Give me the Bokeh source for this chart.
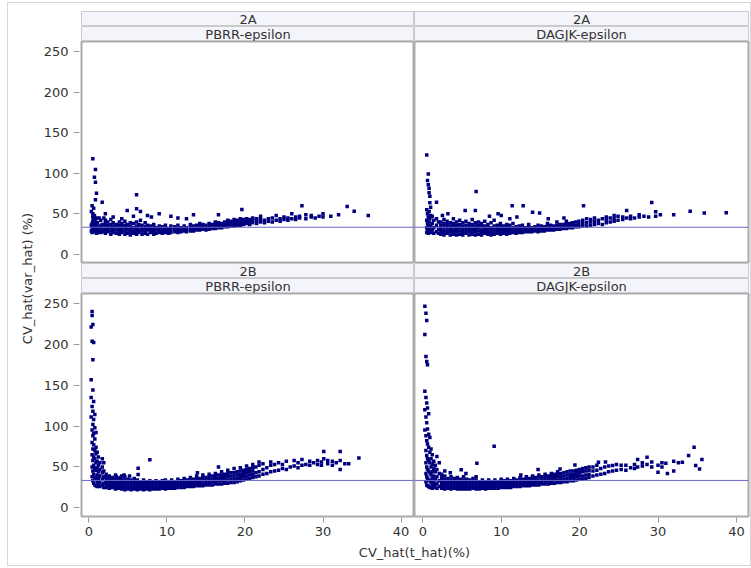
from bokeh.plotting import figure
from bokeh.layouts import row, column
from bokeh.models import Range1d, Span, FixedTicker
from bokeh.core.properties import value
from bokeh.embed import file_html
from bokeh.resources import INLINE
from math import pi

# ---------------- data ----------------
ROW_LABELS = ["2A", "2B"]
COL_LABELS = ["PBRR-epsilon", "DAGJK-epsilon"]
X_TICKS = [0, 10, 20, 30, 40]
Y_TICKS = [0, 50, 100, 150, 200, 250]
REF_LEVEL = 33.5
X_LABEL = "CV_hat(t_hat)(%)"
Y_LABEL = "CV_hat(var_hat) (%)"

# 2A / PBRR-epsilon : x value of each column of points, and the y values in it
TL_COL_X = [0.3, 0.4, 0.49, 0.6, 0.7, 0.83, 0.96, 1.1, 1.3, 1.5, 1.69, 1.9,
            2.1, 2.4, 2.8, 3.1, 3.5, 3.9, 4.2, 4.6, 4.9, 5.3, 5.7, 6.1, 6.4, 6.6, 6.8,
            7.2, 7.5, 7.9, 8.0, 8.3, 8.6, 9.0, 9.4, 9.8, 10.2, 10.5, 11.0, 11.4, 11.8,
            12.2, 12.5, 13.0, 13.4, 13.8, 14.2, 14.6, 15.0, 15.4, 15.8, 16.2, 16.6,
            17.0, 17.4, 17.8, 18.2, 18.6, 19.0, 19.4, 19.6, 19.8,
            20.2, 20.6, 21.0, 21.5, 22.0, 22.5, 23.0, 23.5, 24.0, 24.5, 25.0, 25.5,
            26.0, 26.5, 27.0, 27.3, 27.8, 28.5, 29.0, 29.5, 30.0, 31.0, 32.0, 33.1,
            34.0, 35.8]
TL_COL_Y = [[53, 36, 29], [60, 38, 31, 27], [117.8, 50, 46, 41, 34], [57, 44, 37, 30],
            [95, 48, 40, 32, 28], [104.7, 89, 67.3, 42, 35], [75.5, 45, 38, 33, 26],
            [39, 31, 27], [45, 35, 29], [42, 33, 27], [64.4, 37, 30], [45, 34, 28],
            [26, 30, 34, 38, 42, 50], [28, 32, 36, 40], [25, 29, 33, 37, 43],
            [27, 31, 35, 39, 46], [26, 30, 34, 37], [25, 28, 32, 36, 40],
            [27, 31, 34, 38, 44], [25, 29, 33, 36, 41], [26, 30, 33, 37, 54],
            [24, 28, 32, 35, 39], [26, 29, 33, 38, 47], [25, 28, 31, 35, 40, 56.2, 73.5],
            [27, 30, 34, 37], [53, 42], [25, 29, 32, 36], [26, 28, 31, 34, 39],
            [25, 30, 33, 36, 48], [27, 29, 32, 35], [46], [25, 28, 31, 34, 37],
            [26, 30, 33], [27, 29, 32, 35, 50], [26, 28, 31, 34], [27, 30, 33, 36],
            [26, 29, 32], [27, 30, 33, 35, 47], [28, 31, 34], [27, 29, 32, 36, 45],
            [28, 31, 33], [29, 32, 35], [28, 30, 33, 44], [29, 31, 34, 37],
            [29, 32, 35, 49], [30, 33, 36], [30, 32, 35, 38], [31, 34, 37], [30, 33, 36],
            [31, 34, 38], [32, 35, 37], [32, 34, 38, 40], [33, 36, 39, 49], [33, 35, 38],
            [34, 37, 40], [34, 36, 39, 42], [35, 38, 41], [35, 37, 40, 43], [36, 39, 42],
            [36, 38, 41, 44], [55.4], [37, 40, 43],
            [38, 41, 44], [37, 40, 43], [39, 42, 45], [38, 41, 44], [40, 43, 47], [39, 42],
            [41, 44], [40, 45], [42, 48], [41, 44], [43, 46], [42, 45], [44, 50], [43, 46],
            [45, 47], [60], [44, 49], [46, 48], [45], [47], [50, 46], [47], [49], [59],
            [53.3], [48]]

# 2A / DAGJK-epsilon
TR_COL_X = [0.5, 0.6, 0.7, 0.8, 0.9, 1.0, 1.2, 1.4, 1.75, 2.0,
            2.3, 2.5, 2.7, 3.1, 3.2, 3.5, 3.9, 4.3, 4.7, 5.1, 5.4, 5.5, 5.9, 6.3, 6.7,
            6.8, 7.1, 7.5, 7.9, 8.3, 8.5, 8.7, 9.1, 9.5, 9.6, 9.9, 10.0, 10.3, 10.7,
            11.1, 11.4, 11.5, 11.9, 12.0, 12.3, 12.7, 12.8, 13.1, 13.5, 13.9, 14.0,
            14.3, 14.7, 14.9, 15.1, 15.5, 15.9, 16.0, 16.3, 16.7, 17.1, 17.5, 17.9,
            18.0, 18.3, 18.7, 19.1, 19.5, 19.9,
            20.4, 20.5, 20.9, 21.4, 21.9, 22.4, 22.9, 23.4, 23.9, 24.4, 24.9, 25.5,
            26.0, 26.5, 27.0, 27.6, 28.2, 28.8, 29.2, 29.7, 30.3, 32.0, 34.1, 35.9,
            38.7]
TR_COL_Y = [[122.5, 55, 42, 33, 27], [91, 50, 38, 30], [99, 86, 46, 35, 26],
            [81.6, 76, 53, 40, 31, 28], [71.7, 63.6, 44, 36, 29], [58, 48, 34, 27],
            [47, 38, 30], [42, 33, 26], [64.4, 44, 36, 28], [40, 31, 26],
            [25, 28, 32, 36, 40], [48], [24, 27, 30, 34, 38, 43], [26, 29, 33, 37, 41],
            [50], [24, 28, 31, 35, 39], [25, 27, 30, 34, 38, 44], [24, 28, 32, 36, 40],
            [25, 29, 33, 37, 42], [24, 27, 31, 35, 39], [54], [26, 29, 32, 36, 41],
            [24, 28, 31, 34, 38], [25, 27, 30, 33, 37, 43], [24, 28, 32, 35, 39, 54],
            [77.6], [25, 29, 33, 36, 40], [24, 27, 30, 34, 38], [26, 29, 32, 35, 41],
            [25, 28, 31, 34, 37], [47], [24, 27, 30, 33, 39], [25, 28, 31, 35, 42],
            [26, 29, 32, 36], [50], [25, 28, 31, 34, 38], [48], [26, 29, 32, 35],
            [25, 28, 30, 33, 37], [26, 29, 32, 36, 44], [60], [27, 30, 33, 38],
            [26, 28, 31, 34], [46], [27, 29, 32, 35], [27, 30, 33, 36], [60], [28, 30, 33],
            [28, 31, 34, 37], [28, 30, 33], [52], [29, 31, 34], [28, 30, 33, 36], [51],
            [29, 32, 35], [29, 31, 34], [30, 32, 35, 38], [44], [30, 33, 36], [30, 32, 35],
            [31, 33, 36, 40], [31, 34, 37], [32, 34, 37], [45], [32, 35, 38, 41],
            [33, 35, 38], [33, 36, 39], [34, 36, 40], [34, 37, 41],
            [35, 38, 42], [60], [35, 39, 44], [36, 40, 43], [37, 41, 45], [38, 42],
            [37, 44], [39, 43, 46], [40, 45], [41, 44, 48], [42, 47], [43, 46], [54, 45],
            [44, 47], [45], [49, 46], [47], [46], [64], [52.7, 47], [49], [49], [53.3],
            [51], [51.5]]

# 2B / PBRR-epsilon
BL_COL_X = [0.28, 0.4, 0.5, 0.6, 0.75, 0.9, 1.05, 1.2, 1.4, 1.7, 1.9,
            2.2, 2.6, 3.0, 3.4, 3.5, 3.8, 4.0, 4.2, 4.5, 4.6, 5.0, 5.2, 5.4, 5.8, 6.2,
            6.3, 6.6, 7.0, 7.4, 7.8, 8.2, 8.6, 9.0, 9.4, 9.8, 10.2, 10.6, 11.0, 11.4,
            11.8, 12.2, 12.6, 13.0, 13.4, 13.8, 13.9, 14.2, 14.6, 15.0, 15.4, 15.8,
            16.2, 16.6, 17.0, 17.4, 17.8, 18.2, 18.6, 19.0, 19.4, 19.8,
            20.2, 20.6, 21.0, 21.4, 21.8, 22.3, 22.8, 23.3, 23.8, 24.3, 24.8, 25.3,
            25.8, 26.3, 26.8, 27.3, 27.8, 28.3, 28.8, 29.3, 29.8, 30.1, 30.6, 31.2,
            31.7, 32.2, 32.8, 33.3, 34.6]
BL_COL_Y = [[221, 156.5, 135, 111], [240, 235, 203.7, 124, 95, 80, 65, 50, 38],
            [224, 181, 144, 118, 102, 88, 72, 58, 45, 33],
            [202, 130, 108, 91, 77, 62, 52, 41, 30], [114, 98, 84, 70, 60, 48, 37, 28],
            [92, 74, 66, 55, 46, 36, 27], [68, 57, 49, 40, 32, 26], [62, 52, 44, 36, 29],
            [55, 47, 39, 31, 26], [60, 50, 43, 35, 28], [55, 45, 38, 30, 25],
            [25, 28, 31, 34, 37, 41], [24, 27, 30, 33, 36, 39], [25, 28, 31, 34, 37],
            [23, 26, 29, 32, 35, 40], [38], [24, 27, 30, 33, 36], [37],
            [23, 26, 29, 32, 35, 39], [40], [22, 25, 28, 31, 34, 38], [23, 26, 29, 32, 35],
            [39], [22, 25, 28, 31, 34], [23, 26, 29, 32, 36], [22, 25, 28, 31, 34],
            [48.4, 40.7], [23, 26, 29, 32], [22, 25, 28, 31, 34], [23, 26, 29, 32],
            [22, 25, 28, 31, 33, 58.7], [23, 26, 29, 32], [23, 25, 28, 31, 33],
            [23, 26, 29, 32], [24, 26, 29, 31, 33], [23, 26, 28, 31, 34], [24, 27, 29, 32],
            [24, 26, 29, 31, 34], [24, 27, 30, 32], [25, 27, 30, 33, 35], [25, 28, 30, 33],
            [25, 28, 31, 34, 36], [26, 28, 31, 34], [26, 29, 32, 35, 37], [26, 29, 32, 35],
            [27, 30, 33, 36, 39], [42.8], [27, 30, 33, 36], [27, 30, 34, 37, 40],
            [28, 31, 34, 37], [28, 31, 35, 38, 41], [28, 32, 35, 39],
            [29, 32, 36, 39, 42], [29, 33, 36, 40, 50], [29, 33, 37, 40, 44],
            [30, 33, 37, 41], [30, 34, 38, 42, 46], [31, 35, 39, 43],
            [31, 35, 39, 43, 48], [32, 36, 40, 44], [33, 37, 41, 45, 49], [34, 38, 42, 46],
            [35, 39, 43, 47, 51], [36, 40, 44, 48], [37, 41, 45, 49, 53], [38, 43, 50],
            [39, 44, 52, 56], [41, 47, 54], [42, 49], [44, 52, 56],
            [45, 53], [46, 55], [48, 53], [47, 57], [50],
            [51, 58], [49, 55], [52, 59], [53], [52, 57], [55], [53, 58],
            [56, 52], [68.8, 60], [54, 58], [52, 57], [55], [68.8, 47, 58], [54], [54],
            [61]]

# 2B / DAGJK-epsilon
BR_COL_X = [0.26, 0.4, 0.5, 0.6, 0.75, 0.9, 1.05, 1.2, 1.4, 1.6, 1.8, 2.1,
            2.4, 2.8, 3.2, 3.5, 3.6, 4.0, 4.4, 4.8, 4.9, 5.2, 5.5, 5.6, 6.0, 6.4, 6.8,
            6.9, 7.2, 7.6, 8.0, 8.4, 8.8, 9.1, 9.2, 9.6, 10.0, 10.4, 10.8, 11.2, 11.6,
            12.0, 12.4, 12.5, 12.8, 13.2, 13.6, 14.0, 14.4, 14.7, 14.8, 15.2, 15.6,
            16.0, 16.4, 16.8, 17.2, 17.5, 17.6, 18.0, 18.4, 18.8, 19.2, 19.4, 19.6,
            20.0, 20.4, 20.8, 21.2, 21.7, 22.2, 22.4, 22.7, 23.2, 23.3, 23.7, 24.2,
            24.7, 25.3, 25.9, 26.5, 27.0, 27.4, 28.0, 28.6, 29.2, 30.0, 30.5, 31.0,
            31.2, 32.0, 32.6, 33.1, 33.9, 34.6, 34.8, 35.3, 35.6]
BR_COL_Y = [[246.5, 212, 142.5, 120, 95], [238, 185, 135, 111, 88, 70, 55, 42, 32],
            [229, 179, 128, 104, 82, 64, 50, 38, 28], [175, 122, 96.5, 78, 60, 47, 36, 27],
            [115, 90, 74, 58, 45, 34, 26], [86, 68, 55, 43, 33, 25], [72, 60, 50, 40, 31],
            [65, 53, 44, 36, 28, 24], [57, 48, 39, 31, 25], [52, 44, 35, 28],
            [62.7, 47, 38, 30, 24], [55, 42, 33, 26],
            [24, 27, 30, 33, 37, 41], [23, 26, 29, 32, 35, 39, 45], [24, 27, 30, 33, 36],
            [43], [23, 25, 28, 31, 34, 38], [24, 27, 30, 33, 36], [23, 25, 28, 31, 34, 37],
            [23, 26, 29, 32, 35], [46.4], [23, 25, 28, 31, 34, 38], [42],
            [23, 26, 29, 32, 35], [23, 25, 28, 31, 34], [24, 26, 29, 32, 36],
            [23, 25, 28, 31, 34, 38], [54.5], [23, 26, 29, 32], [24, 26, 29, 31, 34],
            [23, 26, 28, 31], [24, 26, 29, 32, 34], [24, 27, 29, 32], [75.3],
            [24, 26, 29, 31, 34], [24, 27, 30, 32], [25, 27, 30, 33, 35], [25, 28, 30, 33],
            [25, 27, 30, 33, 35], [25, 28, 31, 33], [26, 28, 31, 34, 36], [26, 29, 31, 34],
            [26, 29, 32, 35, 37], [40], [27, 29, 32, 35], [27, 30, 33, 36, 38],
            [27, 30, 33, 36], [28, 31, 34, 37, 39], [28, 31, 34, 37], [46.8],
            [28, 31, 34, 38, 40], [29, 32, 35, 38], [29, 32, 36, 39, 41], [29, 33, 36, 39],
            [30, 33, 37, 40, 42], [30, 34, 37, 41], [31, 34, 38, 41, 44], [47.6],
            [31, 35, 38, 42], [32, 35, 39, 43], [32, 36, 40, 44], [33, 37, 41, 45],
            [33, 37, 41, 45], [52.5], [34, 38, 42, 46], [35, 39, 43, 47], [35, 39, 44, 48],
            [36, 40, 45, 49], [37, 41, 46, 50], [39, 45, 50], [40, 46, 52], [55.7],
            [41, 48], [42, 50], [56], [44, 51], [45, 51.7],
            [46, 53], [47, 52], [46, 52], [49], [48, 53], [59, 50], [51, 55],
            [61.9, 53], [50, 56], [43.5, 52], [55, 50], [54.5], [42], [45, 57], [55],
            [55.7], [64], [74], [51.7], [47.5], [59]]

PANEL_DATA = [[(TL_COL_X, TL_COL_Y), (TR_COL_X, TR_COL_Y)],
              [(BL_COL_X, BL_COL_Y), (BR_COL_X, BR_COL_Y)]]

# ---------------- style ----------------
FONT = "DejaVu Sans"
TXT = "#333333"
POINT = "#00007F"
REF = "#6767C9"
HDR_FILL = "#F3F5FA"
HDR_LINE = "#CACACA"
FRAME_LINE = "#ABABAB"
LEFT_BORDER = 41
FW = [333, 334]
X_RANGES = [(-0.96, 41.73), (-1.06, 41.54)]
Y_RANGES = [(-9.9, 262.3), (-10.6, 262.0)]
FH = [221, 223]


def flat(cx, cy):
    xs, ys = [], []
    for x, col in zip(cx, cy):
        for y in col:
            xs.append(x)
            ys.append(y)
    return xs, ys


def header(text, c, top=0):
    p = figure(frame_width=FW[c], frame_height=15,
               min_border_left=LEFT_BORDER if c == 0 else 0,
               min_border_right=0 if c == 0 else 2,
               min_border_top=top, min_border_bottom=0,
               x_range=Range1d(0, 1), y_range=Range1d(0, 1),
               x_axis_location=None, y_axis_location=None,
               toolbar_location=None, output_backend="svg",
               background_fill_color=HDR_FILL, outline_line_color=HDR_LINE,
               outline_line_width=1)
    p.grid.visible = False
    p.text(x=[0.5], y=[0.5], text=[text], text_align="center",
           text_baseline="middle", text_font=value(FONT),
           text_font_size=value("13px"), text_color=TXT)
    return p


def panel(r, c):
    cx, cy = PANEL_DATA[r][c]
    xs, ys = flat(cx, cy)
    p = figure(frame_width=FW[c], frame_height=FH[r],
               min_border_left=LEFT_BORDER if c == 0 else 0,
               min_border_right=0 if c == 0 else 2,
               min_border_top=0, min_border_bottom=1 if r == 0 else 28,
               x_range=Range1d(*X_RANGES[c]), y_range=Range1d(*Y_RANGES[r]),
               x_axis_location="below" if r == 1 else None,
               y_axis_location="left" if c == 0 else None,
               toolbar_location=None, output_backend="svg",
               outline_line_color=FRAME_LINE, outline_line_width=2)
    p.grid.visible = False
    for ax in p.xaxis:
        ax.ticker = FixedTicker(ticks=X_TICKS)
    for ax in p.yaxis:
        ax.ticker = FixedTicker(ticks=Y_TICKS)
    for ax in list(p.xaxis) + list(p.yaxis):
        ax.axis_line_color = None
        ax.minor_tick_line_color = None
        ax.major_tick_line_color = "#9A9A9A"
        ax.major_label_text_font = FONT
        ax.major_label_text_font_size = "13px"
        ax.major_label_text_color = TXT
    for ax in p.yaxis:
        ax.major_tick_out = 8
        ax.major_tick_in = -2
        ax.major_label_standoff = 5
    for ax in p.xaxis:
        ax.major_tick_out = 6
        ax.major_tick_in = -1
        ax.major_label_standoff = 4
    p.scatter(xs, ys, marker="square", size=3.5, fill_color=POINT, line_color=None)
    p.add_layout(Span(location=REF_LEVEL, dimension="width",
                      line_color=REF, line_width=1))
    return p


TOTAL_H = 562

# y label strip
ylab = figure(frame_width=32, frame_height=TOTAL_H, min_border=0,
              x_range=Range1d(0, 32), y_range=Range1d(0, TOTAL_H),
              x_axis_location=None, y_axis_location=None,
              toolbar_location=None, output_backend="svg", outline_line_color=None)
ylab.grid.visible = False
ylab.text(x=[19], y=[287], text=[Y_LABEL], angle=pi / 2, text_align="center",
          text_baseline="middle", text_font=value(FONT),
          text_font_size=value("13px"), text_color=TXT)

# x label strip
xlab = figure(frame_width=710, frame_height=21, min_border=0,
              x_range=Range1d(0, 710), y_range=Range1d(0, 21),
              x_axis_location=None, y_axis_location=None,
              toolbar_location=None, output_backend="svg", outline_line_color=None)
xlab.grid.visible = False
xlab.text(x=[374], y=[13], text=[X_LABEL], text_align="center",
          text_baseline="middle", text_font=value(FONT),
          text_font_size=value("13px"), text_color=TXT)

rows = []
for r in range(2):
    rows.append(row(header(ROW_LABELS[r], 0, 8 if r == 0 else 0),
                    header(ROW_LABELS[r], 1, 8 if r == 0 else 0)))
    rows.append(row(header(COL_LABELS[0], 0), header(COL_LABELS[1], 1)))
    rows.append(row(panel(r, 0), panel(r, 1)))
rows.append(xlab)

root = row(ylab, column(*rows))
root.styles = {"margin": "3px 0px 0px 8px", "outline": "1px solid #D8D8D8"}

open("out.html", "w").write(file_html(root, INLINE))
